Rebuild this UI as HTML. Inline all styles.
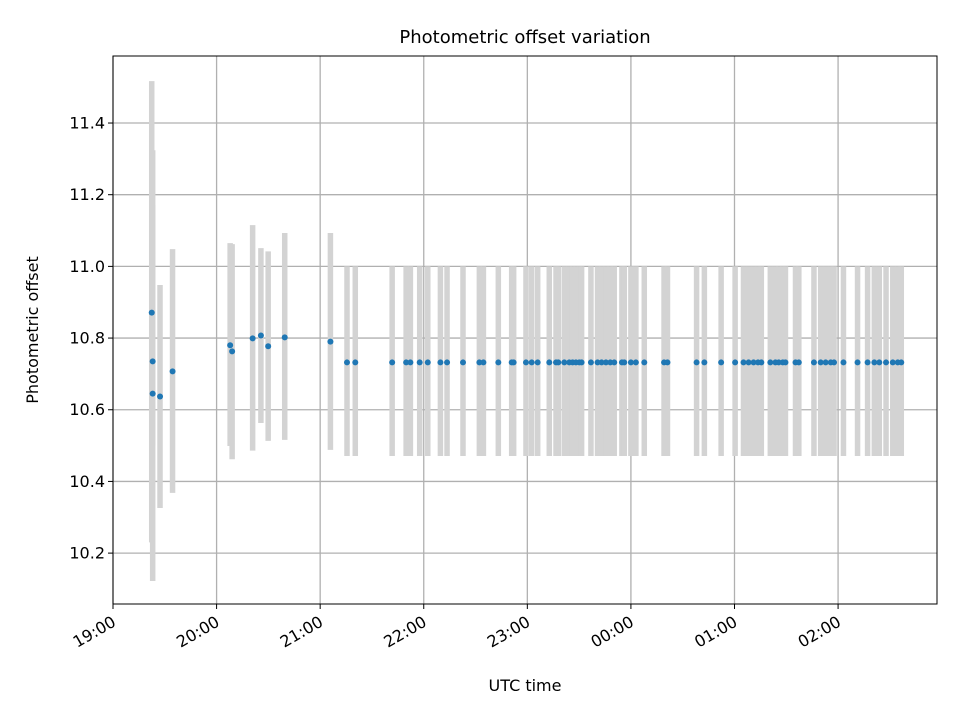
<!DOCTYPE html>
<html><head><meta charset="utf-8"><style>
body{margin:0;background:#fff;font-family:"Liberation Sans","DejaVu Sans",sans-serif}
svg text{font-family:"DejaVu Sans","Liberation Sans",sans-serif;fill:#000}
</style></head><body>
<svg id="chart" width="960" height="720" viewBox="0 0 960 720" xmlns="http://www.w3.org/2000/svg">
<rect width="960" height="720" fill="#fff"/>
<g id="grid"></g>
<g id="bars"></g>
<g id="pts"></g>
<rect x="113" y="56" width="824" height="548" fill="none" stroke="#000" stroke-width="1"/>
<g id="ticks"></g>
<text x="525" y="43" font-size="18" text-anchor="middle">Photometric offset variation</text>
<text x="525" y="691" font-size="16" text-anchor="middle">UTC time</text>
<text transform="translate(38,330) rotate(-90)" font-size="16" text-anchor="middle">Photometric offset</text>
</svg>
<script>
// hours after 19:00 UTC
const earlyTimes=[0.374,0.383,0.383,0.454,0.575,1.131,1.150,1.348,1.428,1.498,1.658,2.099,2.259,2.339];
const earlyValues=[10.871,10.735,10.645,10.637,10.707,10.780,10.763,10.799,10.807,10.777,10.802,10.790,10.732,10.732];
const earlyUpper=[11.517,11.324,11.172,10.948,11.048,11.065,11.062,11.115,11.051,11.042,11.093,11.093,11.0,11.0];
const earlyLower=[10.23,10.122,10.5,10.326,10.368,10.499,10.462,10.486,10.563,10.513,10.516,10.488,10.471,10.471];
const lateTimes=[2.695,2.830,2.871,2.961,3.039,3.161,3.225,3.379,3.537,3.576,3.720,3.849,3.868,3.987,4.042,4.100,4.212,4.277,4.299,4.357,4.405,4.437,4.469,4.502,4.524,4.614,4.678,4.717,4.759,4.801,4.839,4.913,4.936,5.000,5.048,5.129,5.320,5.353,5.634,5.709,5.871,6.006,6.087,6.136,6.184,6.227,6.259,6.346,6.395,6.427,6.466,6.492,6.589,6.621,6.767,6.832,6.880,6.929,6.961,7.052,7.188,7.285,7.350,7.398,7.463,7.528,7.576,7.610];
const lateValue=10.732, lateUpper=11.0, lateLower=10.471;
const xTickLabels=["19:00","20:00","21:00","22:00","23:00","00:00","01:00","02:00"];
const yTicks=[10.2,10.4,10.6,10.8,11.0,11.2,11.4];

const NS="http://www.w3.org/2000/svg";
const X0=113,X1=937,Y0=56,Y1=604,xmin=0,xmax=7.955,ymin=10.058,ymax=11.587;
const xs=h=>X0+(h-xmin)/(xmax-xmin)*(X1-X0);
const ys=v=>Y1-(v-ymin)/(ymax-ymin)*(Y1-Y0);
function mk(tag,attrs,parent){const e=document.createElementNS(NS,tag);for(const k in attrs)e.setAttribute(k,attrs[k]);document.getElementById(parent).appendChild(e);return e;}
xTickLabels.forEach((lab,i)=>{const x=xs(i);
 let g=mk('line',{x1:x,x2:x,y1:Y0,y2:Y1,stroke:'#b0b0b0','stroke-width':1.3},'grid');
 
 let t=mk('line',{x1:x,x2:x,y1:Y1,y2:Y1+5,stroke:'#000'},'ticks');
 
 let tx=mk('text',{'font-size':16,'text-anchor':'end',transform:`translate(${x+4},${Y1+21}) rotate(-30)`},'ticks');
 tx.textContent=lab;});
yTicks.forEach(v=>{const y=ys(v);
 let g=mk('line',{x1:X0,x2:X1,y1:y,y2:y,stroke:'#b0b0b0','stroke-width':1.3},'grid');
 
 let t=mk('line',{x1:X0-5,x2:X0,y1:y,y2:y,stroke:'#000'},'ticks');
 
 let tx=mk('text',{x:X0-8,y:y+5.5,'font-size':16,'text-anchor':'end'},'ticks');
 tx.textContent=v.toFixed(1);});
function bar(h,lo,hi){const b=mk('line',{x1:xs(h),x2:xs(h),y1:ys(hi),y2:ys(lo),stroke:'#d3d3d3','stroke-width':5.5},'bars');
 }
function pt(h,v){const c=mk('circle',{cx:xs(h),cy:ys(v),r:3,fill:'#1f77b4'},'pts');
 }
earlyTimes.forEach((h,i)=>bar(h,earlyLower[i],earlyUpper[i]));
lateTimes.forEach(h=>bar(h,lateLower,lateUpper));
earlyTimes.forEach((h,i)=>pt(h,earlyValues[i]));
lateTimes.forEach(h=>pt(h,lateValue));
</script>
</body></html>
